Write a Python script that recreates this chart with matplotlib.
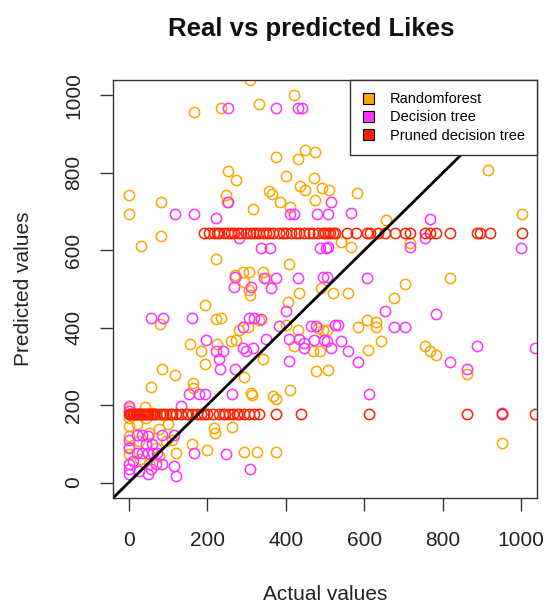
import matplotlib
matplotlib.use("Agg")
import matplotlib.pyplot as plt
from matplotlib.patches import Patch

plt.rcParams['font.family'] = ['Liberation Sans', 'DejaVu Sans']

# ---- data ----
rf_actual = [310, 420, 167, 235, 333, 449, 474, 374, 432, 252, 273, 400, 471, 437, 449, 492, 509, 358, 364, 386,
             474, 247, 250, 1, 1, 82, 316, 412, 32, 82, 222, 409, 270, 290, 307, 341, 349, 294, 307, 309,
             435, 490, 407, 195, 80, 222, 235, 282, 303, 333, 400, 430, 481, 494, 157, 184, 226, 260, 273, 422,
             469, 486, 86, 117, 58, 165, 165, 294, 311, 314, 367, 375, 412, 476, 507, 341, 195, 218, 219, 262,
             162, 199, 294, 328, 375, 655, 1001, 540, 566, 716, 818, 703, 520, 559, 676, 606, 583, 629, 629, 642,
             610, 754, 767, 784, 504, 861, 950, 916, 582,
             0, 0, 0, 0, 0, 0, 22, 27, 42, 43, 52, 78, 69, 94, 111, 120, 78, 52, 30, 60, 90, 100]
rf_pred = [1040, 1001, 958, 968, 977, 859, 853, 841, 836, 806, 782, 791, 788, 766, 755, 762, 756, 752, 746, 726,
           730, 743, 726, 742, 695, 726, 706, 711, 611, 637, 577, 564, 536, 545, 545, 543, 528, 519, 498, 485,
           489, 502, 466, 459, 410, 422, 425, 395, 401, 420, 408, 395, 399, 395, 358, 341, 358, 366, 369, 352,
           339, 341, 294, 277, 247, 258, 245, 272, 232, 226, 223, 217, 240, 289, 292, 320, 306, 142, 127, 143,
           100, 83, 79, 79, 79, 678, 693, 622, 609, 618, 529, 512, 489, 489, 476, 420, 401, 415, 403, 366,
           343, 352, 341, 330, 395, 281, 103, 807, 748,
           193, 167, 145, 119, 93, 73, 150, 107, 196, 167, 129, 137, 90, 107, 111, 77, 69, 47, 60, 180, 175, 150]

dt_actual = [252, 375, 432, 441, 117, 167, 222, 252, 412, 420, 479, 507, 515, 566, 767, 282, 337, 360, 486, 503,
             271, 269, 311, 345, 375, 362, 430, 494, 400, 384, 56, 88, 162, 307, 320, 337, 290, 464, 477, 196,
             349, 409, 435, 447, 473, 498, 222, 239, 290, 298, 316, 447, 515, 508, 716, 754, 999, 504, 606, 652,
             784, 525, 533, 675, 703, 504, 540, 559, 886, 1035, 583, 818, 861, 612, 950, 229, 232, 270, 409, 154,
             178, 195, 263, 133, 167, 247, 309, 120, 116, 116, 86,
             0, 0, 0, 0, 0, 10, 22, 35, 48, 22, 35, 48, 61, 73, 43, 56, 69, 48, 27, 86, 0, 0, 60]
dt_pred = [968, 968, 968, 968, 695, 695, 683, 726, 695, 695, 695, 695, 726, 697, 682, 632, 607, 607, 607, 607,
           532, 504, 504, 529, 529, 502, 529, 532, 444, 405, 425, 425, 425, 425, 425, 423, 403, 405, 405, 369,
           372, 372, 372, 361, 369, 369, 341, 341, 348, 341, 348, 348, 348, 609, 609, 631, 607, 532, 529, 444,
           436, 406, 406, 403, 403, 366, 366, 341, 354, 348, 312, 312, 294, 229, 180, 318, 294, 294, 313, 229,
           229, 229, 229, 197, 77, 73, 34, 17, 43, 124, 124,
           197, 184, 47, 34, 22, 56, 124, 124, 120, 77, 77, 77, 77, 77, 99, 34, 47, 21, 30, 47, 110, 90, 100]

pdt_actual = [0, 3, 6, 10, 14, 18, 22, 26, 30, 34, 38, 42, 46, 50, 55, 60, 65, 70, 80, 95,
              111, 133, 162, 175, 192, 214, 229, 256, 265, 282, 294, 307, 320, 333, 375, 439, 612, 861, 950, 1035,
              88, 104, 120, 145, 150, 185, 200, 240, 245, 275,
              192, 218, 231, 252, 269, 286, 298, 316, 333, 350, 367, 384, 401, 413, 435, 447, 469, 481, 494, 507,
              520, 499, 512, 525, 555, 580, 606, 614, 635, 652, 678, 703, 716, 754, 767, 784, 818, 886, 895, 920, 1001,
              205, 225, 242, 260, 278, 308, 325, 342, 358, 392, 425, 458]
pdt_pred = [178] * 50 + [645] * 53

series_names = ["Randomforest", "Decision tree", "Pruned decision tree"]
series_colors = ["#FFA500", "#FF33FF", "#FF2000"]

x_ticks = [0, 200, 400, 600, 800, 1000]
y_ticks = [0, 200, 400, 600, 800, 1000]

# ---- figure ----
fig = plt.figure(figsize=(5.46, 6.06), dpi=100)
ax = fig.add_axes([113 / 546, 1 - 498 / 606, (537 - 113) / 546, (498 - 80) / 606])

for xs, ys, c in zip([rf_actual, dt_actual, pdt_actual], [rf_pred, dt_pred, pdt_pred], series_colors):
    ax.plot(xs, ys, linestyle='none', marker='o', markersize=7.4, markerfacecolor='none',
            markeredgecolor=c, markeredgewidth=1.1)

ax.axline((0, 0), slope=1, color='black', linewidth=2)

ax.set_xlim(-40, 1040)
ax.set_ylim(-40, 1040)
ax.set_xticks(x_ticks)
ax.set_yticks(y_ticks)
ax.set_xticklabels([str(v) for v in x_ticks], fontsize=15, color='#222222')
ax.set_yticklabels([str(v) for v in y_ticks], fontsize=15, color='#222222', rotation=90, va='center')
ax.tick_params(axis='both', direction='out', length=9.5, width=1, color='#333333')
ax.tick_params(axis='x', pad=14)
ax.tick_params(axis='y', pad=12)
for s in ax.spines.values():
    s.set_color('#333333')
    s.set_linewidth(1)

ax.set_xlabel("Actual values", fontsize=15, color='#222222')
ax.xaxis.set_label_coords(0.5, (498 - 595) / 418)
ax.xaxis.label.set_va('center')
ax.set_ylabel("Predicted values", fontsize=15, color='#222222')
ax.yaxis.set_label_coords((24 - 113) / 424, 0.5)
ax.yaxis.label.set_va('center')

fig.text(311 / 546, 1 - 29 / 606, "Real vs predicted Likes", ha='center', va='center',
         fontsize=18.5, fontweight='bold', color='#111111')

handles = [Patch(facecolor=c, edgecolor='black', linewidth=0.8) for c in series_colors]
leg = ax.legend(handles, series_names, loc='upper right', bbox_to_anchor=(1, 1), borderaxespad=0,
                fontsize=10.5, fancybox=False, framealpha=1, edgecolor='#333333',
                handlelength=0.75, handleheight=0.75, handletextpad=1.1, borderpad=0.85,
                labelspacing=0.28)
leg.get_frame().set_linewidth(1)
leg.set_zorder(5)

fig.savefig("out.png", dpi=100)
